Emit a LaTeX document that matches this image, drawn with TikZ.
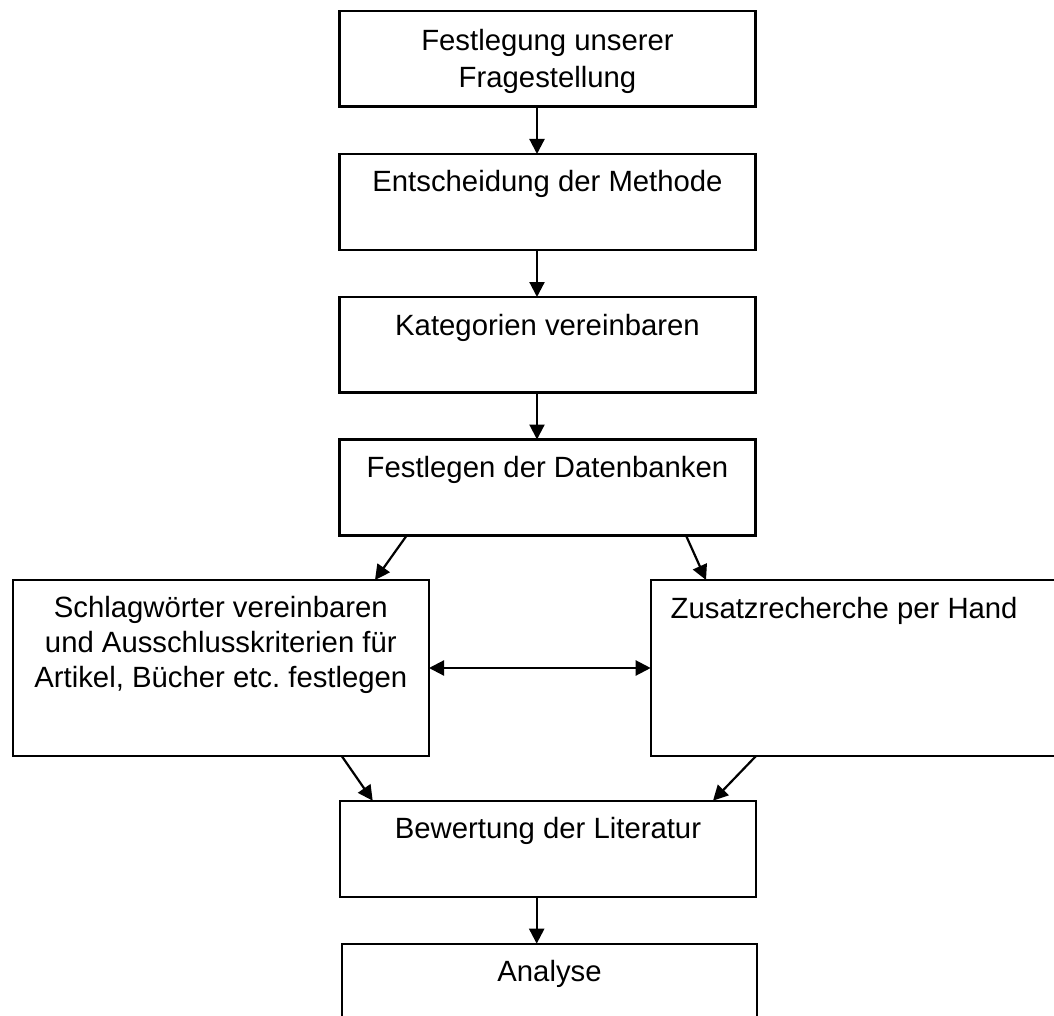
\documentclass[tikz,border=0pt]{standalone}
\usepackage{fontspec}
\setmainfont{Liberation Sans}
\usetikzlibrary{arrows.meta}
\newcommand{\bxt}[4]{\parbox[t][#2][t]{#1}{\centering\rule{0pt}{#3}#4}}
\tikzset{
  box/.style={draw, line width=2.2pt, inner sep=0pt, outer sep=0pt, anchor=north west,
              font=\fontsize{29.3}{35}\selectfont},
  arr/.style={line width=2.2pt, -{Triangle[length=15pt,width=15pt]}},
  darr/.style={line width=2.2pt, {Triangle[length=15pt,width=15pt]}-{Triangle[length=15pt,width=15pt]}}
}
\begin{document}
\begin{tikzpicture}[x=1pt,y=-1pt]
\useasboundingbox (0,0) rectangle (1054,1016);
\clip (0,0) rectangle (1054,1016);
\node[box] (b1) at (339.5,11) {\bxt{416pt}{95.5pt}{40pt}{\baselineskip=37pt Festlegung unserer\\Fragestellung}};
\node[box] (b2) at (339.5,154) {\bxt{416pt}{96pt}{38pt}{Entscheidung der Methode}};
\node[box] (b3) at (339.5,297) {\bxt{416pt}{95.5pt}{38pt}{Kategorien vereinbaren}};
\node[box] (b4) at (339.5,439.5) {\bxt{416pt}{96pt}{38pt}{Festlegen der Datenbanken}};
\node[box] (bl) at (12.7,580) {\bxt{416.3pt}{176pt}{37pt}{Schlagwörter vereinbaren\\und Ausschlusskriterien für\\Artikel, Bücher etc.\ festlegen}};
\node[box] (br) at (650.7,580) {\parbox[t][176pt][t]{430pt}{\raggedright\hspace*{20pt}\rule{0pt}{38pt}Zusatzrecherche per Hand}};
\node[box] (b7) at (340,800.7) {\bxt{416pt}{96pt}{38pt}{Bewertung der Literatur}};
\node[box] (b8) at (341.7,943.7) {\bxt{415.6pt}{100pt}{38pt}{Analyse}};
\coordinate (a7) at ([xshift=-11.3pt]b7.south);
\draw[arr] ([xshift=-10.5pt]b1.south) -- ([xshift=-10.5pt]b2.north);
\draw[arr] ([xshift=-10.5pt]b2.south) -- ([xshift=-10.5pt]b3.north);
\draw[arr] ([xshift=-10.5pt]b3.south) -- ([xshift=-10.5pt]b4.north);
\draw[arr] ([xshift=-140.8pt]b4.south) -- ([xshift=154.15pt]bl.north);
\draw[arr] ([xshift=138.5pt]b4.south) -- ([xshift=55.3pt]br.north west);
\draw[darr] (bl.east) -- (br.west);
\draw[arr] ([xshift=-87.3pt]bl.south east) -- ([xshift=32.7pt]b7.north west);
\draw[arr] ([xshift=105.3pt]br.south west) -- ([xshift=-43pt]b7.north east);
\draw[arr] (a7) -- (a7 |- b8.north);
\end{tikzpicture}
\end{document}
